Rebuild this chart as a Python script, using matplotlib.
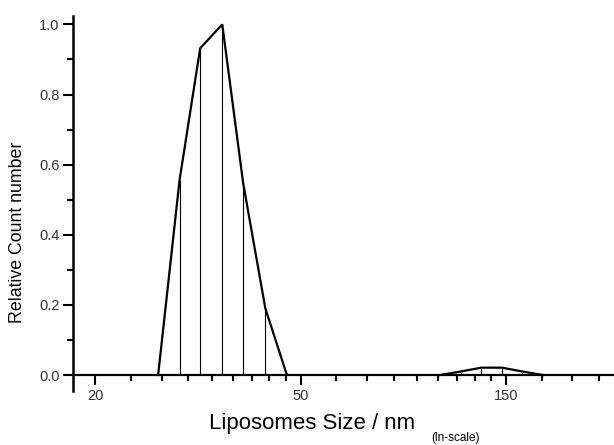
import matplotlib
matplotlib.use('Agg')
import matplotlib.pyplot as plt
import numpy as np
from matplotlib.ticker import FixedLocator, NullFormatter

plt.rcParams['font.family'] = ['Liberation Sans', 'DejaVu Sans']

# Данные (x в нм, ln-шкала)
main_x = [27.3, 30.3, 33.5, 37.3, 41.3, 46.0, 51.1]
main_y = [0.0, 0.556, 0.932, 1.0, 0.547, 0.19, 0.0]
small_x = [107.7, 119.0, 131.6, 145.5, 160.8, 177.7]
small_y = [0.0, 0.010, 0.021, 0.021, 0.010, 0.0]

major_pos = np.exp([3, 4, 5])
major_labels = ['20', '50', '150']

fig = plt.figure(figsize=(6.14, 4.45), dpi=100)
ax = fig.add_axes([0.1194, 0.1218, 0.8790, 0.843])

for xs, ys in ((main_x, main_y), (small_x, small_y)):
    ax.plot(xs, ys, color='black', lw=1.6, solid_joinstyle='miter', zorder=3)
    ax.vlines(xs[1:-1], 0, ys[1:-1], color='black', lw=0.8, zorder=2)

ax.set_xscale('log', base=np.e)
ax.set_xlim(np.exp(2.894), np.exp(5.521))
ax.set_ylim(-0.045, 1.025)

# Подписи осей
ax.xaxis.set_major_locator(FixedLocator(major_pos))
ax.set_xticklabels(major_labels)
minor = []
for n in (3, 4, 5):
    a, b = np.exp(n), np.exp(n + 1)
    minor += [a + k * (b - a) / 9 for k in range(1, 9)]
ax.xaxis.set_minor_locator(FixedLocator(minor))
ax.xaxis.set_minor_formatter(NullFormatter())

ax.set_yticks(np.linspace(0, 1, 6))
ax.set_yticklabels(['%.1f' % v for v in np.linspace(0, 1, 6)])
ax.set_yticks(np.linspace(0.1, 0.9, 5), minor=True)

for s in ('top', 'right'):
    ax.spines[s].set_visible(False)
ax.spines['bottom'].set_position(('data', 0))
ax.spines['bottom'].set_linewidth(1.6)
ax.spines['left'].set_linewidth(1.8)

ax.tick_params(axis='both', which='major', direction='out', length=7, width=1.5,
               labelsize=10.5, labelcolor='#333333', pad=3)
ax.tick_params(axis='both', which='minor', direction='out', length=4, width=1.5)
ax.patch.set_visible(False)

fig.text(18 / 614, 1 - 232 / 445, 'Relative Count number', rotation=90,
         ha='center', va='center', fontsize=12.8)
fig.text(312 / 614, 1 - 423 / 445, 'Liposomes Size / nm', ha='center', va='center',
         fontsize=16)
fig.text(456 / 614, 1 - 438 / 445, '(ln-scale)', ha='center', va='center',
         fontsize=8.5)

fig.savefig('out.png', dpi=100)
